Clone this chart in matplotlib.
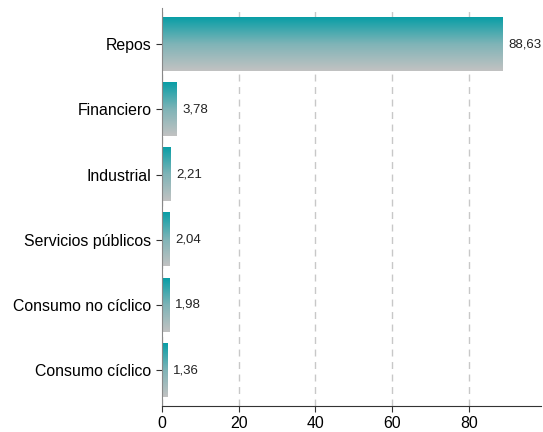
import numpy as np
import matplotlib.pyplot as plt
from matplotlib.colors import LinearSegmentedColormap

plt.rcParams['font.family'] = ['Liberation Sans', 'DejaVu Sans']

# sector weights (%)
sectors = ['Repos', 'Financiero', 'Industrial', 'Servicios públicos',
           'Consumo no cíclico', 'Consumo cíclico']
weights = [88.63, 3.78, 2.21, 2.04, 1.98, 1.36]
xticks = [0, 20, 40, 60, 80]

fig = plt.figure(figsize=(5.43, 4.32), dpi=100)
ax = fig.add_axes([0.298, 0.060, 0.698, 0.921])

ypos = np.arange(len(sectors))
bars = ax.barh(ypos, weights, height=0.82, color='none', zorder=2)

# vertical gradient teal -> grey in each bar
cmap = LinearSegmentedColormap.from_list('tg', ['#c2c2c2', '#7fb4b7', '#089ea6'])
grad = np.linspace(0, 1, 256).reshape(-1, 1)
for b in bars:
    x0, y0 = b.get_x(), b.get_y()
    w, h = b.get_width(), b.get_height()
    # y axis is inverted, so top of bar is y0
    ax.imshow(grad, extent=(x0, x0 + w, y0 + h, y0), origin='lower', cmap=cmap,
              aspect='auto', zorder=2)

for y, v in zip(ypos, weights):
    ax.text(v + 1.5, y, f'{v:.2f}'.replace('.', ','), va='center', ha='left',
            fontsize=9.5, color='#222222')

ax.set_xlim(0, 98.7)
ax.set_ylim(5.55, -0.55)
ax.set_yticks(ypos)
ax.set_yticklabels(sectors, fontsize=11.4)
ax.set_xticks(xticks)
ax.set_xticklabels([str(t) for t in xticks], fontsize=11.4)

ax.grid(axis='x', linestyle=(0, (5, 4)), color='#c8c8c8', linewidth=1, zorder=0)
ax.set_axisbelow(True)
for s in ['top', 'right']:
    ax.spines[s].set_visible(False)
ax.spines['left'].set_color('#888888')
ax.spines['bottom'].set_color('#333333')
ax.tick_params(axis='y', length=4, color='#333333')
ax.tick_params(axis='x', length=4, color='#333333')

fig.savefig('out.png', dpi=100)
